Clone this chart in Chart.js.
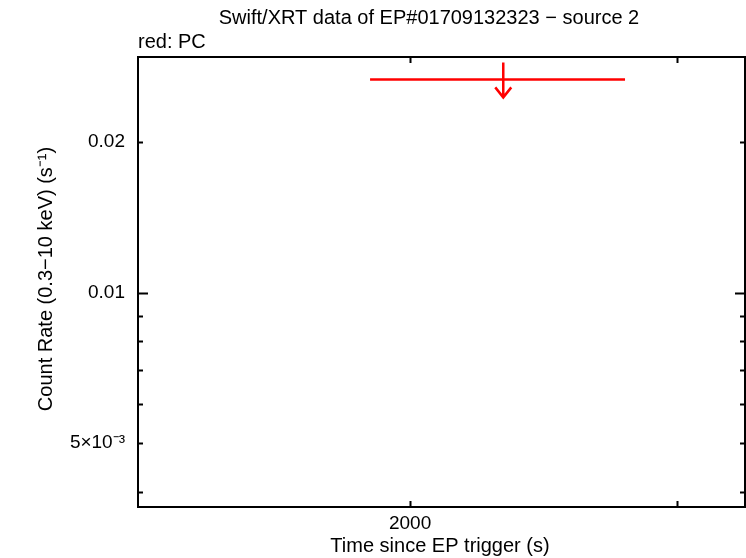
<!DOCTYPE html>
<html>
<head>
<meta charset="utf-8">
<script src="https://cdn.jsdelivr.net/npm/chart.js@4/dist/chart.umd.min.js"></script>
<style>
  html, body { margin: 0; padding: 0; background: #fff; }
  #wrap { width: 746px; height: 558px; position: relative; }
</style>
</head>
<body>
<div id="wrap"><canvas id="myChart" width="746" height="558"></canvas></div>
<script>
// upper limit bin (PC mode)
var binStart = [1882];
var binEnd = [2772];
var ulTime = [2304];
var ulRate = [0.0267];

// axis ranges and ticks
var xMin = 1323, xMax = 3326;
var yMin = 0.003726, yMax = 0.0296;
var xTicks = [2000, 3000];
var xLabels = {2000: "2000"};
var yTicks = [0.004, 0.005, 0.006, 0.007, 0.008, 0.009, 0.01, 0.02];
var yMajor = [0.01];
var yLabels = {0.005: "5\u00d710\u207b\u00b3", 0.01: "0.01", 0.02: "0.02"};

var FONT = "Liberation Sans, Arial, sans-serif";

var lineData = [];
for (var i = 0; i < binStart.length; i++) {
  lineData.push({x: binStart[i], y: ulRate[i]});
  lineData.push({x: binEnd[i], y: ulRate[i]});
  lineData.push({x: NaN, y: NaN});
}

var framePlugin = {
  id: "frame",
  afterDraw: function(chart) {
    var ctx = chart.ctx, a = chart.chartArea;
    var xs = chart.scales.x, ys = chart.scales.y;
    ctx.save();
    // upper limit arrows
    ctx.strokeStyle = "#ff0000";
    ctx.lineWidth = 2.5;
    for (var i = 0; i < ulTime.length; i++) {
      var px = xs.getPixelForValue(ulTime[i]);
      var py = ys.getPixelForValue(ulRate[i]);
      ctx.beginPath();
      ctx.moveTo(px, py - 17);
      ctx.lineTo(px, py + 18);
      ctx.moveTo(px - 8, py + 8);
      ctx.lineTo(px, py + 18);
      ctx.lineTo(px + 8, py + 8);
      ctx.stroke();
    }
    // frame
    ctx.strokeStyle = "#000";
    ctx.lineWidth = 2;
    ctx.strokeRect(a.left, a.top, a.right - a.left, a.bottom - a.top);
    // inward ticks
    ctx.beginPath();
    xTicks.forEach(function(v) {
      var p = Math.round(xs.getPixelForValue(v)) + 0.5;
      ctx.moveTo(p, a.bottom); ctx.lineTo(p, a.bottom - 6);
      ctx.moveTo(p, a.top); ctx.lineTo(p, a.top + 6);
    });
    yTicks.forEach(function(v) {
      var p = Math.round(ys.getPixelForValue(v)) + 0.5;
      var len = yMajor.indexOf(v) >= 0 ? 10 : 5;
      ctx.moveTo(a.left, p); ctx.lineTo(a.left + len, p);
      ctx.moveTo(a.right, p); ctx.lineTo(a.right - len, p);
    });
    ctx.stroke();
    // texts
    ctx.fillStyle = "#000";
    ctx.font = "20px " + FONT;
    ctx.textBaseline = "middle";
    ctx.textAlign = "center";
    ctx.fillText("Swift/XRT data of EP#01709132323 \u2212 source 2", 429, 18);
    ctx.fillText("Time since EP trigger (s)", 440, 546);
    ctx.textAlign = "left";
    ctx.fillText("red: PC", 138, 42);
    ctx.translate(46, 279);
    ctx.rotate(-Math.PI / 2);
    ctx.textAlign = "center";
    ctx.fillText("Count Rate (0.3\u221210 keV) (s\u207b\u00b9)", 0, 0);
    ctx.restore();
  }
};

new Chart("myChart", {
  type: "line",
  data: {
    datasets: [{
      label: "PC",
      data: lineData,
      borderColor: "#ff0000",
      borderWidth: 2.5,
      pointRadius: 0,
      spanGaps: false,
      fill: false
    }]
  },
  options: {
    responsive: false,
    animation: false,
    layout: { padding: { top: 57, right: 1, left: 0, bottom: 0 } },
    plugins: { legend: { display: false }, tooltip: { enabled: false } },
    scales: {
      x: {
        type: "logarithmic",
        min: xMin, max: xMax,
        afterBuildTicks: function(s) { s.ticks = xTicks.map(function(v) { return {value: v}; }); },
        afterFit: function(s) { s.height = 51; },
        grid: { display: false, drawTicks: false },
        border: { display: false },
        ticks: {
          color: "#000", padding: 5, maxRotation: 0, autoSkip: false,
          font: { family: FONT, size: 19 },
          callback: function(v) { return xLabels[v] || ""; }
        }
      },
      y: {
        type: "logarithmic",
        min: yMin, max: yMax,
        afterBuildTicks: function(s) { s.ticks = yTicks.map(function(v) { return {value: v}; }); },
        afterFit: function(s) { s.width = 138; },
        grid: { display: false, drawTicks: false },
        border: { display: false },
        ticks: {
          color: "#000", padding: 13, autoSkip: false,
          font: { family: FONT, size: 19 },
          callback: function(v) { return yLabels[v] || ""; }
        }
      }
    }
  },
  plugins: [framePlugin]
});
</script>
</body>
</html>
